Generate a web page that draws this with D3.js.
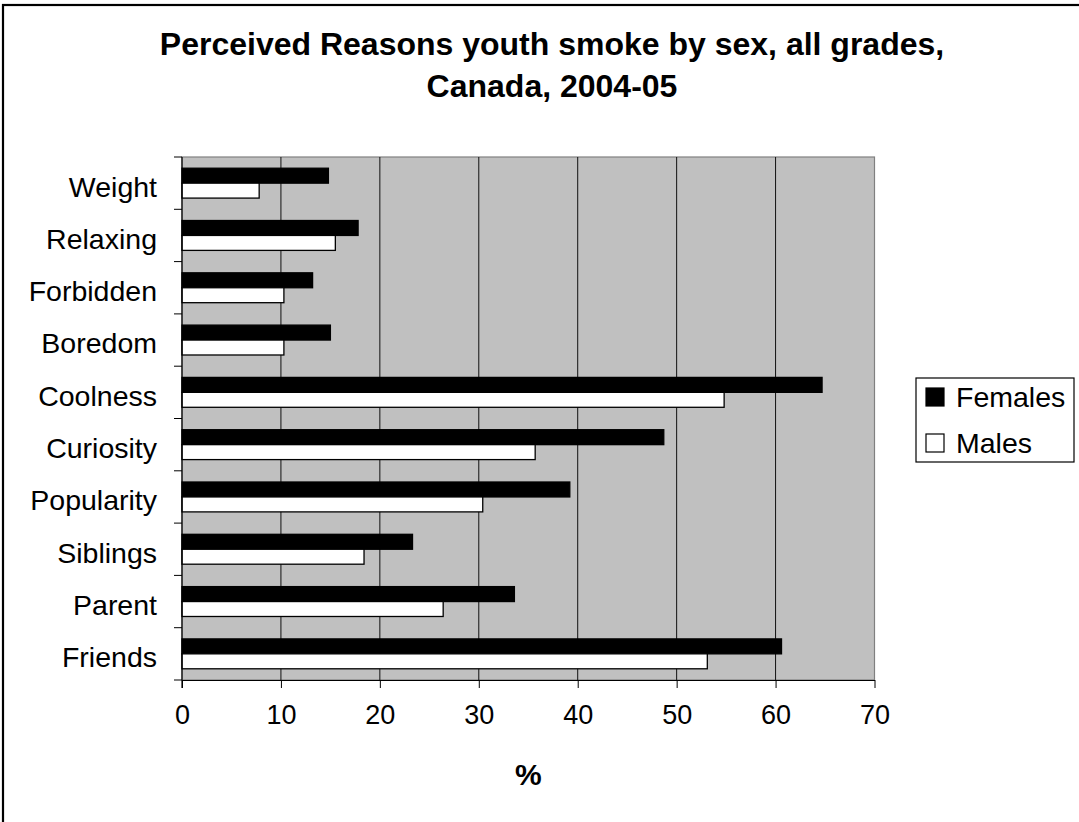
<!DOCTYPE html>
<html>
<head>
<meta charset="utf-8">
<script src="https://cdn.jsdelivr.net/npm/d3@7"></script>
<style>
  html, body { margin: 0; padding: 0; background: #fff; }
  svg { display: block; font-family: Arial, "Liberation Sans", sans-serif; }
</style>
</head>
<body>
<svg id="chart" width="1079" height="822"></svg>
<script>
// Reasons, listed top to bottom as drawn
const categories = ["Weight", "Relaxing", "Forbidden", "Boredom", "Coolness",
                    "Curiosity", "Popularity", "Siblings", "Parent", "Friends"];
const seriesNames = ["Females", "Males"];
const females = [14.8, 17.8, 13.2, 15.0, 64.7, 48.7, 39.2, 23.3, 33.6, 60.6];
const males   = [7.8, 15.5, 10.3, 10.3, 54.8, 35.7, 30.4, 18.4, 26.4, 53.1];
const xTicks = [0, 10, 20, 30, 40, 50, 60, 70];
const titleLines = ["Perceived Reasons youth smoke by sex, all grades,", "Canada, 2004-05"];
const xTitle = "%";

const seriesFill = { Females: "#000000", Males: "#ffffff" };
const rows = categories.map((c, i) => ({ cat: c, Females: females[i], Males: males[i] }));

const svg = d3.select("#chart");
const plot = { left: 182, right: 874.5, top: 157, bottom: 680 };

// outer chart frame
svg.append("rect")
  .attr("x", 3).attr("y", 5).attr("width", 1090).attr("height", 830)
  .attr("fill", "#fff").attr("stroke", "#000").attr("stroke-width", 2.2);

// title
svg.append("text")
  .attr("text-anchor", "middle").attr("font-weight", "bold").attr("font-size", 32)
  .selectAll("tspan").data(titleLines).join("tspan")
  .attr("x", 552).attr("y", (d, i) => 55 + i * 42).text(d => d);

const x = d3.scaleLinear().domain([0, 70]).range([plot.left, plot.right]);
const gap = 1.5; // gap between groups, in bar widths
const y0 = d3.scaleBand().domain(categories).range([plot.top, plot.bottom])
  .paddingInner(gap / (2 + gap)).paddingOuter(gap / (2 + gap) / 2);
const y1 = d3.scaleBand().domain(seriesNames).range([0, y0.bandwidth()]);

// plot area background
svg.append("rect")
  .attr("x", plot.left).attr("y", plot.top)
  .attr("width", plot.right - plot.left).attr("height", plot.bottom - plot.top)
  .attr("fill", "#c0c0c0").attr("stroke", "#808080").attr("stroke-width", 1.2);

// vertical gridlines
svg.append("g").selectAll("line").data(xTicks.slice(1, -1)).join("line")
  .attr("x1", d => x(d)).attr("x2", d => x(d))
  .attr("y1", plot.top).attr("y2", plot.bottom)
  .attr("stroke", "#111").attr("stroke-width", 1);

// bars
const groups = svg.append("g").selectAll("g").data(rows).join("g")
  .attr("transform", d => `translate(0,${y0(d.cat)})`);
groups.selectAll("rect").data(d => seriesNames.map(s => ({ s, v: d[s] }))).join("rect")
  .attr("x", x(0)).attr("y", d => y1(d.s))
  .attr("width", d => x(d.v) - x(0)).attr("height", y1.bandwidth())
  .attr("fill", d => seriesFill[d.s]).attr("stroke", "#000").attr("stroke-width", 1.3);

// x axis
const xAxis = svg.append("g").attr("transform", `translate(0,${plot.bottom})`)
  .call(d3.axisBottom(x).tickValues(xTicks).tickSize(8).tickPadding(17).tickSizeOuter(0));
xAxis.select(".domain").attr("stroke", "#000").attr("stroke-width", 1.2);
xAxis.selectAll(".tick line").attr("stroke", "#000");
xAxis.selectAll("text").attr("font-size", 27).attr("fill", "#000")
  .attr("font-family", "Arial, 'Liberation Sans', sans-serif");

// y axis: ticks sit on the category boundaries
const boundaries = categories.map((c, i) => plot.top + i * y0.step()).concat([plot.bottom]);
svg.append("line").attr("x1", plot.left).attr("x2", plot.left)
  .attr("y1", plot.top).attr("y2", plot.bottom + 8).attr("stroke", "#000").attr("stroke-width", 1.2);
svg.append("g").selectAll("line").data(boundaries).join("line")
  .attr("x1", plot.left - 8).attr("x2", plot.left)
  .attr("y1", d => d).attr("y2", d => d).attr("stroke", "#000");
svg.append("g").selectAll("text").data(categories).join("text")
  .attr("x", 157).attr("y", d => y0(d) + y0.bandwidth() / 2)
  .attr("dy", "0.47em").attr("text-anchor", "end").attr("font-size", 28.5)
  .text(d => d);

// axis title
svg.append("text").attr("x", x(35)).attr("y", 785)
  .attr("text-anchor", "middle").attr("font-weight", "bold").attr("font-size", 30)
  .text(xTitle);

// legend
const lg = svg.append("g");
lg.append("rect").attr("x", 916).attr("y", 378).attr("width", 158).attr("height", 84)
  .attr("fill", "#fff").attr("stroke", "#000").attr("stroke-width", 1.2);
const items = lg.selectAll("g").data(seriesNames).join("g")
  .attr("transform", (d, i) => `translate(926,${407 + i * 46})`);
items.append("rect").attr("x", 0).attr("y", -19).attr("width", 18).attr("height", 18)
  .attr("fill", d => seriesFill[d]).attr("stroke", "#000").attr("stroke-width", 1.2);
items.append("text").attr("x", 30).attr("font-size", 28.5)
  .text(d => d);
</script>
</body>
</html>
